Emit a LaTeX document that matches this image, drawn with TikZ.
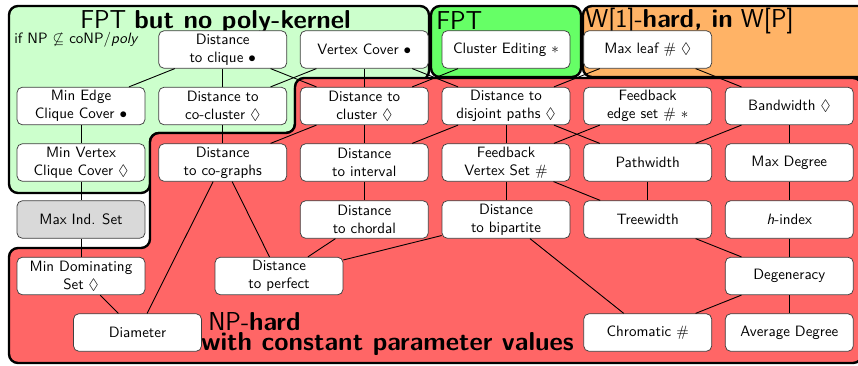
\documentclass[tikz,border=0pt]{standalone}
\usepackage{amssymb}
\definecolor{lgreen}{RGB}{204,255,204}
\definecolor{fgreen}{RGB}{102,255,102}
\definecolor{worange}{RGB}{255,179,102}
\definecolor{npred}{RGB}{255,102,102}
\definecolor{misgray}{RGB}{217,217,217}
\begin{document}
\begin{tikzpicture}[x=0.6667pt,y=-0.6667pt, font=\sffamily,
  region/.style={draw=black, line width=1.6pt, rounded corners=6pt},
  param/.style={draw=black!75, fill=white, rounded corners=3.5pt, minimum width=85.3pt,
    minimum height=25pt, align=center, inner sep=2pt, line width=0.5pt},
  link/.style={line width=0.6pt},
  regiontitle/.style={font=\sffamily\LARGE, inner sep=0pt, anchor=base west}]
\useasboundingbox (0,0) rectangle (858,365);
\clip (0,0) rectangle (858,365);
% regions
\path[region, fill=lgreen] (200,6) -- (429,6) -- (429,80) -- (295,80) -- (295,133) -- (150,133) -- (150,193) -- (9,193) -- (9,6) -- cycle;
\path[region, fill=npred] (80,248) -- (150,248) -- (150,133) -- (295,133) -- (295,78) -- (862,78) -- (862,363) -- (9,363) -- (9,248) -- cycle;
\path[region, fill=fgreen] (431,6) rectangle (581,77);
\path[region, fill=worange] (583,6) rectangle (870,77);
% titles
\node[regiontitle] (t1) at (80,28) {FPT \textbf{but no poly-kernel}};
\node[inner sep=0pt, anchor=base west] (t2) at (14,43) {if NP $\not\subseteq$ coNP/\textit{poly}};
\node[regiontitle] (t3) at (436,29) {FPT};
\node[regiontitle] (t4) at (585,27) {W[1]-\textbf{hard, in} W[P]};
\node[regiontitle] (t5) at (208,330) {NP-\textbf{hard}};
\node[regiontitle] (t6) at (201,350) {\textbf{with constant parameter values}};
% nodes
\node[param] (clique) at (222.7,49.5) {Distance\\to clique $\bullet$};
\node[param] (vc) at (364.3,49.5) {Vertex Cover $\bullet$};
\node[param] (ce) at (506,49.5) {Cluster Editing $\ast$};
\node[param] (ml) at (647.7,49.5) {Max leaf $\#$ $\Diamond$};
\node[param] (mecc) at (81,106) {Min Edge\\Clique Cover $\bullet$};
\node[param] (cocl) at (222.7,106) {Distance to\\co-cluster $\Diamond$};
\node[param] (cl) at (364.3,106) {Distance to\\cluster $\Diamond$};
\node[param] (dp) at (506,106) {Distance to\\disjoint paths $\Diamond$};
\node[param] (fes) at (647.7,106) {Feedback\\edge set $\#$ $\ast$};
\node[param] (bw) at (789.3,106) {Bandwidth $\Diamond$};
\node[param] (mvcc) at (81,162.5) {Min Vertex\\Clique Cover $\Diamond$};
\node[param] (cog) at (222.7,162.5) {Distance\\to co-graphs};
\node[param] (int) at (364.3,162.5) {Distance\\to interval};
\node[param] (fvs) at (506,162.5) {Feedback\\Vertex Set $\#$};
\node[param] (pw) at (647.7,162.5) {Pathwidth};
\node[param] (md) at (789.3,162.5) {Max Degree};
\node[param, fill=misgray] (mis) at (81,219.5) {Max Ind. Set};
\node[param] (cho) at (364.3,219.5) {Distance\\to chordal};
\node[param] (bip) at (506,219.5) {Distance\\to bipartite};
\node[param] (tw) at (647.7,219.5) {Treewidth};
\node[param] (hi) at (789.3,219.5) {\textit{h}-index};
\node[param] (mds) at (81,276) {Min Dominating\\Set $\Diamond$};
\node[param] (perf) at (279,276) {Distance\\to perfect};
\node[param] (deg) at (789.3,276) {Degeneracy};
\node[param] (diam) at (137.5,332.5) {Diameter};
\node[param] (chrom) at (647.7,332.5) {Chromatic $\#$};
\node[param] (avg) at (789.3,332.5) {Average Degree};
% connectors
\draw[link] (clique) -- (mecc);
\draw[link] (clique) -- (cocl);
\draw[link] (clique) -- (cl);
\draw[link] (vc) -- (cocl);
\draw[link] (vc) -- (cl);
\draw[link] (vc) -- (dp);
\draw[link] (ce) -- (cl);
\draw[link] (ml) -- (dp);
\draw[link] (ml) -- (bw);
\draw[link] (mecc) -- (mvcc);
\draw[link] (cocl) -- (cog);
\draw[link] (cl) -- (cog);
\draw[link] (cl) -- (int);
\draw[link] (dp) -- (int);
\draw[link] (dp) -- (fvs);
\draw[link] (dp) -- (pw);
\draw[link] (fes) -- (fvs);
\draw[link] (bw) -- (pw);
\draw[link] (bw) -- (md);
\draw[link] (mvcc) -- (mis);
\draw[link] (cog) -- (diam);
\draw[link] (cog) -- (perf);
\draw[link] (int) -- (cho);
\draw[link] (fvs) -- (bip);
\draw[link] (fvs) -- (tw);
\draw[link] (pw) -- (tw);
\draw[link] (md) -- (hi);
\draw[link] (mis) -- (mds);
\draw[link] (cho) -- (perf);
\draw[link] (bip) -- (perf);
\draw[link] (bip) -- (chrom);
\draw[link] (tw) -- (deg);
\draw[link] (hi) -- (deg);
\draw[link] (deg) -- (chrom);
\draw[link] (deg) -- (avg);
\draw[link] (mds) -- (diam);
\end{tikzpicture}
\end{document}
